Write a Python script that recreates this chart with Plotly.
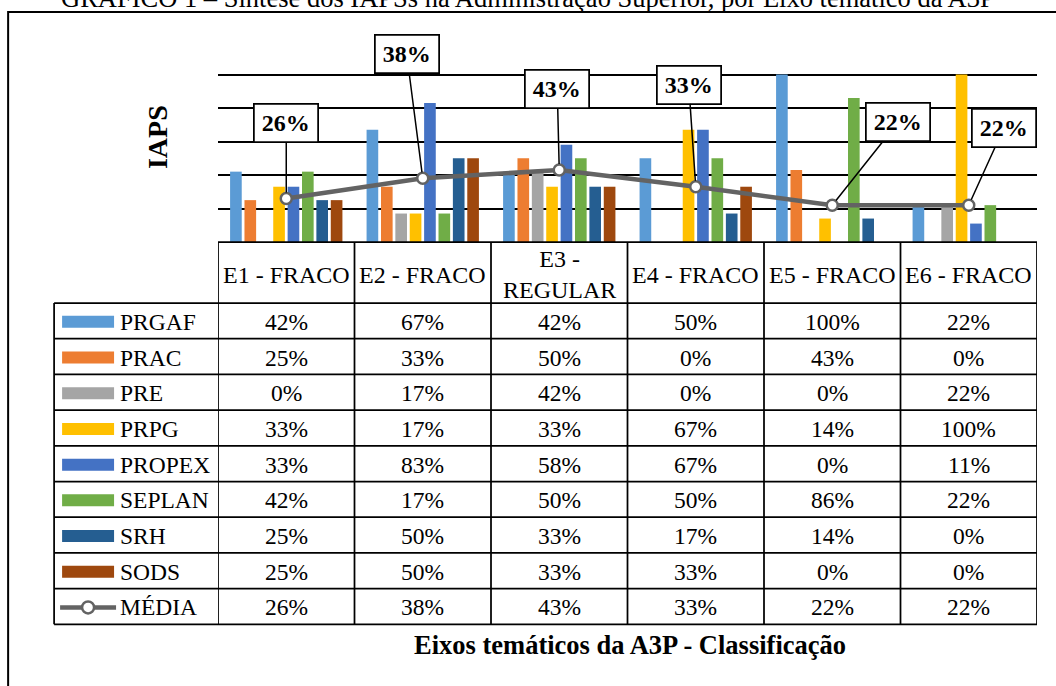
import plotly.graph_objects as go

# ---------------- data ----------------
categories = ["E1 - FRACO", "E2 - FRACO", "E3 - REGULAR", "E4 - FRACO", "E5 - FRACO", "E6 - FRACO"]
series_names = ["PRGAF", "PRAC", "PRE", "PRPG", "PROPEX", "SEPLAN", "SRH", "SODS"]
PRGAF = [42, 67, 42, 50, 100, 22]
PRAC = [25, 33, 50, 0, 43, 0]
PRE = [0, 17, 42, 0, 0, 22]
PRPG = [33, 17, 33, 67, 14, 100]
PROPEX = [33, 83, 58, 67, 0, 11]
SEPLAN = [42, 17, 50, 50, 86, 22]
SRH = [25, 50, 33, 17, 14, 0]
SODS = [25, 50, 33, 33, 0, 0]
MEDIA = [26, 38, 43, 33, 22, 22]
line_name = "MÉDIA"
title_text = "GRÁFICO 1 – Síntese dos IAPSs na Administração Superior, por Eixo temático da A3P"
y_title = "IAPS"
x_title = "Eixos temáticos da A3P - Classificação"

series_values = [PRGAF, PRAC, PRE, PRPG, PROPEX, SEPLAN, SRH, SODS]

# ---------------- style ----------------
colors = ["#5B9BD5", "#ED7D31", "#A5A5A5", "#FFC000", "#4472C4", "#70AD47", "#255E91", "#9E480E"]
line_color = "#636363"
FONT = "Liberation Serif"
W, H = 1056, 686
PL, PR = 218.0, 1037.5   # plot area left/right (px)
PT, PB = 41.0, 242.0     # plot area top/bottom (px)
HEAD_BOTTOM = 303.0
ROW_H = 35.7
LEG_LEFT = 54.0
LW = 1.75

# label box offsets (px) relative to line points
label_offsets = [(0, -75), (-16, -124), (-2, -81), (-7, -102), (66, -83), (35, -77)]


def xp(px):
    return (px - PL) / (PR - PL)


def yp(py):
    return (PB - py) / (PB - PT)


fig = go.Figure()

for name, vals, col in zip(series_names, series_values, colors):
    fig.add_trace(go.Bar(x=categories, y=vals, name=name, marker_color=col,
                         marker_line_width=0, showlegend=False, hoverinfo="skip"))

fig.add_trace(go.Scatter(x=categories, y=MEDIA, name=line_name, mode="lines+markers",
                         line=dict(color=line_color, width=4.5),
                         marker=dict(symbol="circle", size=11, color="white",
                                     line=dict(color=line_color, width=2.5)),
                         showlegend=False, hoverinfo="skip"))

shapes = []
annotations = []

# outer border (left + top visible)
shapes.append(dict(type="rect", xref="paper", yref="paper",
                   x0=xp(8), x1=xp(W + 20), y0=yp(H + 20), y1=yp(12),
                   line=dict(color="black", width=2), fillcolor="rgba(0,0,0,0)", layer="below"))

# table horizontal lines
n_rows = len(series_names) + 1
tb_bottom = HEAD_BOTTOM + n_rows * ROW_H
shapes.append(dict(type="line", xref="paper", yref="paper", x0=0, x1=1, y0=0, y1=0,
                   line=dict(color="black", width=LW)))
for k in range(n_rows + 1):
    yy = yp(HEAD_BOTTOM + k * ROW_H)
    shapes.append(dict(type="line", xref="paper", yref="paper", x0=xp(LEG_LEFT), x1=1,
                       y0=yy, y1=yy, line=dict(color="black", width=LW)))
# vertical lines
shapes.append(dict(type="line", xref="paper", yref="paper", x0=xp(LEG_LEFT), x1=xp(LEG_LEFT),
                   y0=yp(HEAD_BOTTOM), y1=yp(tb_bottom), line=dict(color="black", width=LW)))
for j in range(len(categories) + 1):
    shapes.append(dict(type="line", xref="x", yref="paper", x0=j - 0.5, x1=j - 0.5,
                       y0=0, y1=yp(tb_bottom), line=dict(color="black", width=LW)))

# header labels
for c in categories:
    txt = c if len(c) <= 10 else c.replace(" - ", " -<br>")
    annotations.append(dict(x=c, xref="x", y=yp((PB + HEAD_BOTTOM) / 2 + 2), yref="paper",
                            text=txt, showarrow=False, xanchor="center", yanchor="middle",
                            font=dict(family=FONT, size=24, color="black")))

# rows
row_names = series_names + [line_name]
row_values = series_values + [MEDIA]
for r, (nm, vals) in enumerate(zip(row_names, row_values)):
    cy = HEAD_BOTTOM + (r + 0.5) * ROW_H
    for c, v in zip(categories, vals):
        annotations.append(dict(x=c, xref="x", y=yp(cy + 1), yref="paper", text=f"{v}%",
                                showarrow=False, xanchor="center", yanchor="middle",
                                font=dict(family=FONT, size=23.5, color="black")))
    annotations.append(dict(x=xp(118), xref="paper", y=yp(cy + 1), yref="paper", text=nm,
                            showarrow=False, xanchor="left", yanchor="middle",
                            font=dict(family=FONT, size=23.5, color="black")))
    if r < len(series_names):
        shapes.append(dict(type="rect", xref="paper", yref="paper",
                           x0=xp(62), x1=xp(114), y0=yp(cy + 7), y1=yp(cy - 5),
                           fillcolor=colors[r], line=dict(width=0)))
    else:
        shapes.append(dict(type="line", xref="paper", yref="paper",
                           x0=xp(60), x1=xp(116), y0=yp(cy + 1), y1=yp(cy + 1),
                           line=dict(color=line_color, width=4.5)))
        shapes.append(dict(type="circle", xref="paper", yref="paper",
                           x0=xp(82), x1=xp(94), y0=yp(cy + 7), y1=yp(cy - 5),
                           fillcolor="white", line=dict(color=line_color, width=2.5)))

# data labels on the MÉDIA line
for c, v, (ax, ay) in zip(categories, MEDIA, label_offsets):
    annotations.append(dict(x=c, xref="x", y=v, yref="y", text=f"<b>{v}%</b>",
                            showarrow=True, arrowhead=0, arrowwidth=1.5, arrowcolor="black",
                            ax=ax, ay=ay, standoff=6, width=58, height=32, borderpad=2,
                            bgcolor="white", bordercolor="black", borderwidth=1.75,
                            font=dict(family=FONT, size=24, color="black")))

# axis titles
annotations.append(dict(x=xp(157), xref="paper", y=yp(137), yref="paper", text=f"<b>{y_title}</b>",
                        textangle=-90, showarrow=False, xanchor="center", yanchor="middle",
                        font=dict(family=FONT, size=28, color="black")))
annotations.append(dict(x=xp(630), xref="paper", y=yp(645), yref="paper", text=f"<b>{x_title}</b>",
                        showarrow=False, xanchor="center", yanchor="middle",
                        font=dict(family=FONT, size=26.5, color="black")))
# chart title (partly cut at the top, as in the reference)
annotations.append(dict(x=xp(W / 2), xref="paper", y=yp(-2), yref="paper", text=title_text,
                        showarrow=False, xanchor="center", yanchor="middle",
                        font=dict(family=FONT, size=26.5, color="black")))

fig.update_layout(
    width=W, height=H,
    margin=dict(l=PL, r=W - PR, t=PT, b=H - PB, pad=0),
    paper_bgcolor="white", plot_bgcolor="white",
    barmode="group", bargap=0.157, bargroupgap=0.19,
    xaxis=dict(type="category", range=[-0.5, len(categories) - 0.5], showticklabels=False,
               showgrid=False, zeroline=False, showline=False, ticks=""),
    yaxis=dict(range=[0, 120], tick0=0, dtick=20, showticklabels=False, showgrid=True,
               gridcolor="black", gridwidth=LW, zeroline=False, showline=False, ticks=""),
    shapes=shapes, annotations=annotations,
    font=dict(family=FONT, color="black"),
)

fig.write_html("out.html", config={"displayModeBar": False},
               post_script="document.body.style.margin = '0px';")
